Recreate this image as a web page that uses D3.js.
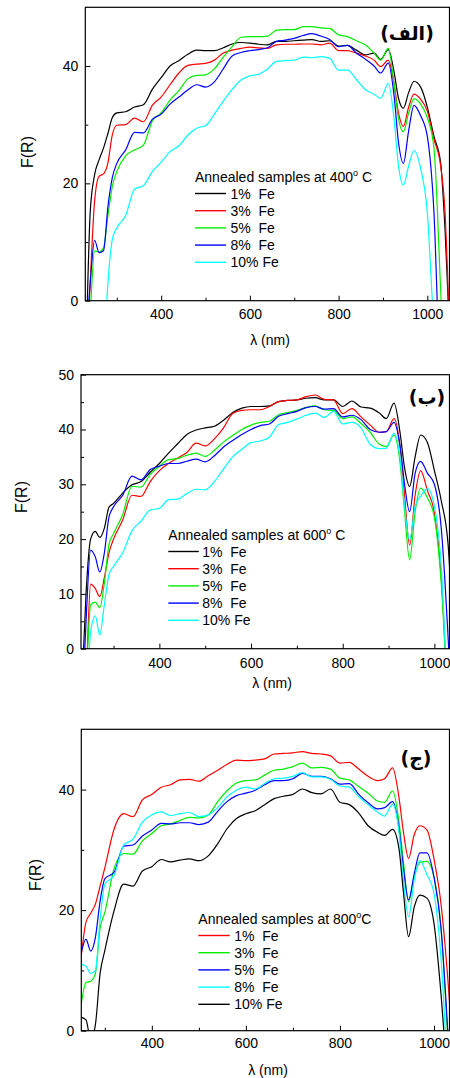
<!DOCTYPE html>
<html>
<head>
<meta charset="utf-8">
<script src="https://cdn.jsdelivr.net/npm/d3@7"></script>
<style>
body { margin: 0; background: #fff; }
svg text { font-family: "Liberation Sans", Arial, sans-serif; fill: #000; }
.axis-title { font-size: 16px; }
.x-title { font-size: 14px; }
.tick text { font-size: 14px; font-family: "Liberation Sans", Arial, sans-serif; }
.legend text { font-size: 14px; white-space: pre; }
.panel-tag { font-family: "DejaVu Sans", sans-serif; font-weight: bold; font-size: 19px; }
</style>
</head>
<body>
<div class="chart"></div>
<script>
// wavelength grid (nm) shared by all three panels
const wavelengths = [232, 240, 250, 260, 270, 280, 290, 300, 320, 340, 360, 380, 400, 420, 440, 460, 480, 500, 520, 540,
    560, 580, 600, 620, 640, 660, 680, 700, 720, 740, 760, 780, 800, 820, 840, 860, 880, 895, 912, 925,
    935, 946, 958, 970, 985, 1000, 1015, 1030, 1040, 1050];

const seriesLabels = ["1%  Fe", "3%  Fe", "5%  Fe", "8%  Fe", "10% Fe"];
const tempLabels = ["400", "600", "800"];
const panelTags = ["(الف)", "(ب)", "(ج)"];

// panel (الف) : 400 C
const p1Fe1 = [-5, 15, 21.5, 24, 26, 28.5, 31.2, 32, 32.2, 33, 33.4, 36, 38, 40, 40.9, 42, 42.7, 42.6, 42.6, 43.1,
    43.75, 44, 43.9, 43.7, 43.6, 44.2, 44.2, 44.3, 44.4, 44.5, 44.2, 44.3, 43.4, 43.5, 42.7, 41.9, 42.2, 41.1, 42.8, 39,
    34.5, 32.8, 35.5, 37.4, 36.4, 33, 28, 23.5, 12, -5];
const p1Fe3 = [-10, 3, 17, 21.2, 21.6, 23.5, 28.3, 29.9, 30, 31.1, 30.5, 33.3, 34.7, 36.8, 38.8, 40.1, 40.3, 40.45, 41, 42.2,
    42.7, 43, 43.2, 43.1, 43, 43.6, 43.7, 43.7, 43.75, 43.75, 43.6, 43.9, 42.6, 42.6, 42.2, 41.7, 41, 39.9, 41, 37,
    32, 29.7, 33, 35.2, 34.3, 32.3, 27.5, 23, 15, -5];
const p1Fe5 = [-10, -2, 8.5, 8.3, 9, 14.5, 19.5, 22, 24.7, 25.7, 26.5, 30.6, 32, 34.2, 35.8, 37.8, 38.4, 38.5, 39.5, 41.5,
    43.3, 44.9, 45, 45, 45.1, 46.1, 46.2, 46.2, 46.7, 46.7, 46.5, 46.4, 45.3, 45, 44.3, 43.6, 42.2, 41, 43, 37,
    31, 28.8, 32, 34.4, 33.5, 31.2, 26, 2, -15, -20];
const p1Fe8 = [-5, 3, 10.3, 8.2, 8.5, 16, 21, 23.4, 25.7, 28.7, 28.6, 30.9, 31.8, 33.5, 34.7, 35.9, 36.8, 36.4, 37.3, 39.5,
    41.7, 42.3, 42.6, 42.8, 43.1, 44.2, 44.4, 44.7, 45.2, 45.5, 45.1, 44.5, 43.3, 43.5, 42.2, 41.2, 40, 38.8, 40.5, 35,
    27, 23.4, 29, 33.3, 31.5, 28, 15, -15, -20, -20];
const p1Fe10 = [-20, -20, -20, -15, -10, 3, 10.5, 12.4, 14.5, 19, 19.6, 22, 23.6, 25.4, 26.4, 28.2, 29.4, 29.8, 31.8, 34,
    36, 37.6, 38.3, 38.6, 39.5, 40.8, 40.9, 41, 41.5, 41.4, 41.6, 41.3, 39.3, 39.3, 37.7, 36, 35.2, 34.5, 37, 31,
    23, 19.7, 23, 25.6, 22.5, 15, -5, -20, -20, -20];

// panel (ب) : 600 C
const p2Fe1 = [-5, 10, 20, 21.4, 20.3, 22, 25.8, 26.5, 28.4, 29.9, 30.5, 32.2, 33.8, 35.7, 37.4, 39.1, 39.9, 40.3, 40.6, 41.7,
    43.1, 43.9, 44.2, 44.2, 44.3, 45.1, 45.3, 45.4, 45.7, 45.8, 45.4, 45.4, 44.2, 45.2, 44.1, 43.9, 43, 42, 44.8, 39.5,
    33, 29.6, 35, 39, 37.6, 32.5, 27, 19, 5, -5];
const p2Fe3 = [-10, -5, 11.8, 11, 9.5, 13, 17.5, 20, 23.5, 28, 27.8, 30.5, 32.5, 33.8, 34.8, 35.8, 37.5, 37, 38.3, 40.3,
    42.9, 43.5, 43.6, 43.6, 44.2, 45.1, 45.3, 45.4, 46, 46.3, 45.5, 45.4, 42.9, 43.8, 42.3, 40.8, 39.5, 39.6, 42, 37,
    28, 18.9, 28, 32.5, 28.8, 24.8, 13, -10, -20, -20];
const p2Fe5 = [-10, -5, 8, 8.5, 7.5, 12, 19, 21, 24.5, 29.6, 29.5, 31.8, 33.3, 34.5, 34.7, 35.3, 35.7, 35.1, 36.2, 37.7,
    38.9, 40, 40.8, 41.3, 41.5, 42.7, 43.1, 43.5, 44, 44.3, 43.6, 43.5, 42, 42.3, 41.1, 39.5, 37.3, 36.9, 39, 34,
    25, 16.2, 25, 29.3, 27.5, 24, 12, -10, -20, -20];
const p2Fe8 = [-10, 5, 18, 16.8, 14, 17.5, 24, 25.9, 28, 31.5, 30.8, 32.7, 33.3, 33.8, 33.8, 34.2, 34.6, 34.1, 35.2, 36.8,
    38, 39.1, 40, 40.7, 41, 42.4, 42.9, 43.3, 44, 44.2, 43.7, 43.8, 42.3, 42.6, 41.8, 40, 39.5, 39.6, 41.3, 37,
    30, 25, 32, 34.2, 32, 30, 22, 2, -15, -20];
const p2Fe10 = [-20, -10, 3, 6, 2.5, 8, 13.5, 15, 17.5, 21.5, 23.3, 25.3, 25.6, 27.2, 27.3, 28.3, 29.1, 29, 30.5, 32.8,
    35, 36.4, 37.6, 37.9, 38.6, 40.9, 41.3, 41.9, 42.6, 43, 42.2, 43.3, 41, 41.3, 40.3, 37.3, 36.5, 36.6, 39.3, 35,
    26, 19.8, 26, 27.8, 29.2, 26, 15, -10, -20, -20];

// panel (ج) : 800 C (starts at 250 nm)
const p3Fe1 = [null, null, 12.5, 18, 19.5, 21, 24, 27, 33.5, 36, 35.5, 38.3, 39.2, 40.4, 40.8, 41.6, 41.7, 41.4, 42.3, 43.2,
    44.2, 44.9, 44.8, 44.9, 45.1, 45.9, 46, 46.1, 46.3, 46, 45.9, 45.6, 44.4, 44.5, 43.4, 42.2, 41.5, 41.8, 43.6, 39,
    33, 28.6, 32.5, 34, 33.3, 28.5, 21, 8, -3, -10];
const p3Fe3 = [null, null, 4.5, 8, 8.2, 9.5, 17, 19.6, 27, 29.4, 29.3, 31.5, 32.7, 34, 34.3, 34.9, 35.4, 35.3, 35.8, 38,
    39.8, 41.1, 41.5, 41.6, 42.4, 43.2, 43.4, 43.8, 44.4, 43.6, 43.7, 43.4, 41.9, 41.6, 40.5, 39.4, 38.1, 37.9, 39.8, 35,
    28, 21.4, 25.5, 27.9, 28.1, 25.5, 17, -2, -15, -20];
const p3Fe5 = [null, null, 13, 15.2, 13.2, 15.5, 21.5, 25.2, 26.3, 30.6, 30.8, 32.3, 33.3, 34.4, 34.3, 34.5, 34.5, 34.2, 34.6, 36.4,
    38, 39, 39.4, 39.9, 40.8, 41.5, 41.5, 41.8, 42.7, 42.2, 42.2, 41.8, 40.9, 41, 39.2, 37.8, 36.8, 37, 38, 33.9,
    27, 21.7, 26, 29.5, 29.5, 25.5, 17, -1, -15, -20];
const p3Fe8 = [null, null, 11, 10.7, 9.5, 10, 18.5, 24.3, 25.8, 30.8, 31.8, 34.6, 35.8, 36.3, 35.7, 36, 36.2, 35.5, 35.8, 37,
    38.8, 39.9, 40.4, 40.1, 41, 41.8, 41.9, 42.2, 42.8, 42.1, 42.1, 41.7, 40.6, 40.4, 38.8, 37.5, 36.3, 35.6, 37.6, 33.4,
    25, 18.9, 25, 28.2, 25.9, 22.8, 12, -8, -20, -20];
const p3Fe10 = [null, null, 2.2, 1.8, -1.5, 1, 9.5, 13.3, 20, 24.3, 24, 26.5, 27.2, 28.4, 28, 28.3, 28.5, 28.2, 29, 31,
    33.5, 35.2, 36, 36.5, 37.5, 38.5, 38.9, 39.2, 40.1, 39.5, 39.3, 40.1, 37.9, 37.5, 36.1, 34, 32.9, 32.4, 33.4, 30.5,
    23, 15.6, 20.5, 22.5, 22, 17.8, 6, -10, -20, -20];

const colorsA = ["#000000", "#ff0000", "#00ee00", "#0000ff", "#00ffff"];
const colorsC = ["#ff0000", "#00ee00", "#0000ff", "#00ffff", "#000000"];

const panels = [
    {
        series: [p1Fe1, p1Fe3, p1Fe5, p1Fe8, p1Fe10], colors: colorsA,
        left: 85.3, right: 449.5, top: 7.3, bottom: 300.7, xDomain: [229, 1050],
        yMajor: [0, 20, 40], yMinor: [10, 30], xPad: 8,
        legend: [195, 177], legendW: 31, legendGap: 4.5, deg: " C",
        yTitle: [27, 152], xTitle: [270, 345], tag: [407, 40]
    },
    {
        series: [p2Fe1, p2Fe3, p2Fe5, p2Fe8, p2Fe10], colors: colorsA,
        left: 81, right: 449.5, top: 374.7, bottom: 648.7, xDomain: [229, 1033],
        yMajor: [0, 10, 20, 30, 40, 50], yMinor: [5, 15, 25, 35, 45], xPad: 9.5,
        legend: [168.3, 535], legendW: 30.5, legendGap: 3.5, deg: " C",
        yTitle: [21, 497], xTitle: [272, 688], tag: [427, 404]
    },
    {
        series: [p3Fe1, p3Fe3, p3Fe5, p3Fe8, p3Fe10], colors: colorsC,
        left: 81.3, right: 449.5, top: 729.3, bottom: 1030.7, xDomain: [250, 1033],
        yMajor: [0, 20, 40], yMinor: [10, 30], xPad: 7,
        legend: [198.3, 919], legendW: 31.4, legendGap: 4.6, deg: "C",
        yTitle: [35, 875], xTitle: [268, 1075], tag: [416, 765]
    }
];

const svg = d3.select(".chart").append("svg")
    .attr("width", 450)
    .attr("height", 1078);

panels.forEach((p, pi) => {
    const x = d3.scaleLinear().domain(p.xDomain).range([p.left, p.right]);
    const y = d3.scaleLinear().domain([0, 50]).range([p.bottom, p.top]);
    const g = svg.append("g").classed("panel", true);

    const clipId = "clip" + pi;
    g.append("clipPath").attr("id", clipId)
        .append("rect")
        .attr("x", p.left).attr("y", p.top)
        .attr("width", p.right - p.left).attr("height", p.bottom - p.top);

    const line = d3.line()
        .defined(d => d[1] !== null)
        .x(d => x(d[0]))
        .y(d => y(d[1]))
        .curve(d3.curveMonotoneX);

    const lines = g.append("g").attr("clip-path", "url(#" + clipId + ")");
    p.series.forEach((vals, si) => {
        lines.append("path")
            .datum(wavelengths.map((w, i) => [w, vals[i]]))
            .attr("fill", "none")
            .attr("stroke", p.colors[si])
            .attr("stroke-width", 1.2)
            .attr("d", line);
    });

    // axes, ticks pointing inside
    const xAxis = d3.axisBottom(x).tickValues([400, 600, 800, 1000]).tickSize(-5).tickPadding(p.xPad).tickFormat(d3.format("d"));
    const xMinor = d3.axisBottom(x).tickValues([300, 500, 700, 900]).tickSize(-3).tickFormat("");
    const yAxis = d3.axisLeft(y).tickValues(p.yMajor).tickSize(-5).tickPadding(7);
    const yMinor = d3.axisLeft(y).tickValues(p.yMinor).tickSize(-3).tickFormat("");

    g.append("g").attr("transform", "translate(0," + p.bottom + ")").call(xAxis);
    g.append("g").attr("transform", "translate(0," + p.bottom + ")").call(xMinor);
    g.append("g").attr("transform", "translate(" + p.left + ",0)").call(yAxis);
    g.append("g").attr("transform", "translate(" + p.left + ",0)").call(yMinor);
    g.selectAll(".domain").remove();
    g.selectAll(".tick line").attr("stroke", "#000");

    g.append("rect")
        .attr("x", p.left).attr("y", p.top)
        .attr("width", p.right - p.left).attr("height", p.bottom - p.top)
        .attr("fill", "none")
        .attr("stroke", "#000")
        .attr("stroke-width", 1.2);

    g.append("text")
        .classed("axis-title", true)
        .attr("transform", "translate(" + p.yTitle[0] + "," + p.yTitle[1] + ") rotate(-90)")
        .attr("dy", "0.35em")
        .style("text-anchor", "middle")
        .text("F(R)");

    g.append("text")
        .classed("x-title", true)
        .attr("x", p.xTitle[0]).attr("y", p.xTitle[1])
        .style("text-anchor", "middle")
        .text("λ (nm)");

    g.append("text")
        .classed("panel-tag", true)
        .attr("x", p.tag[0]).attr("y", p.tag[1])
        .style("text-anchor", "middle")
        .text(panelTags[pi]);

    // legend
    const lg = g.append("g").classed("legend", true)
        .attr("transform", "translate(" + p.legend[0] + "," + p.legend[1] + ")");
    const title = lg.append("text").attr("x", 0).attr("y", 5);
    title.append("tspan").text("Annealed samples at " + tempLabels[pi]);
    title.append("tspan").attr("dy", -6).style("font-size", "9px").text("o");
    title.append("tspan").attr("dy", 6).text(p.deg);

    seriesLabels.forEach((lab, si) => {
        const ly = 16.5 + si * 17.2;
        lg.append("line")
            .attr("x1", 0).attr("x2", p.legendW)
            .attr("y1", ly).attr("y2", ly)
            .attr("stroke", p.colors[si])
            .attr("stroke-width", 1.4);
        lg.append("text")
            .attr("x", p.legendW + p.legendGap)
            .attr("y", ly + 5)
            .text(lab);
    });
});
</script>
</body>
</html>
